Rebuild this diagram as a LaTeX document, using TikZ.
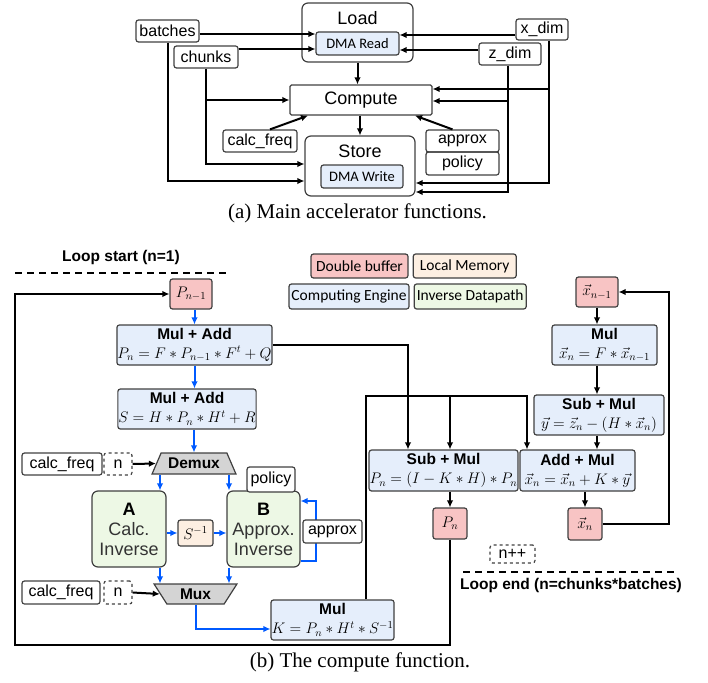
\RequirePackage{fix-cm}
\documentclass[tikz,border=0pt]{standalone}
\usepackage{fontspec}
\setmainfont{Liberation Sans}
\newfontfamily\calfont{Carlito}
\newfontfamily\capfont{Liberation Serif}
\usetikzlibrary{arrows.meta,positioning,shapes.geometric,calc}
\definecolor{bufred}{RGB}{248,196,196}
\definecolor{memorange}{RGB}{253,239,226}
\definecolor{engblue}{RGB}{229,238,251}
\definecolor{invgreen}{RGB}{237,248,229}
\definecolor{muxgray}{RGB}{212,212,212}
\definecolor{flowblue}{RGB}{0,90,255}
\definecolor{boxline}{RGB}{64,64,64}
\newcommand{\eqtext}[1]{{\fontsize{15.3}{19}\selectfont$#1$}}

\begin{document}
\begin{tikzpicture}[x=1pt, y=-1pt, font=\fontsize{16}{18}\selectfont, >={Latex[length=7pt,width=6.5pt]}]
\tikzstyle{box}=[draw=boxline, line width=1.2pt, rounded corners=2.5pt, align=center, inner sep=0.5pt]
\tikzstyle{parbox}=[box, minimum height=22pt]
\tikzstyle{dashbox}=[parbox, dashed]
\tikzstyle{funcbox}=[box, rounded corners=6pt]
\tikzstyle{bigtext}=[font=\fontsize{18}{20}\selectfont]
\tikzstyle{dmabox}=[box, fill=engblue, minimum height=23pt, font=\calfont\fontsize{14.5}{16}\selectfont]
\tikzstyle{engbox}=[box, fill=engblue, minimum height=40pt, font=\fontsize{15.5}{19}\selectfont]
\tikzstyle{bufbox}=[box, fill=bufred, minimum height=30pt]
\tikzstyle{invbox}=[box, fill=invgreen, rounded corners=6pt, minimum width=74pt, minimum height=76pt, font=\fontsize{18}{20}\selectfont]
\tikzstyle{muxbox}=[draw=boxline, line width=1.2pt, fill=muxgray, trapezium, trapezium stretches=true, inner sep=1pt, font=\bfseries\fontsize{15.5}{17}\selectfont]
\tikzstyle{legbox}=[box, minimum height=24pt, font=\calfont\fontsize{15.5}{17}\selectfont]
\tikzstyle{looptext}=[font=\bfseries\fontsize{15.5}{17}\selectfont]
\tikzstyle{arr}=[->, line width=2pt]
\tikzstyle{barr}=[->, line width=2pt, flowblue]
\useasboundingbox (0,0) rectangle (708,682);

% (a) main functions
\node[funcbox, minimum width=111pt, minimum height=59pt] (load) at (357.5,32.5) {};
\node[bigtext] (loadt) at (357.5,18) {Load};
\node[dmabox, minimum width=83pt] (dmar) at (357.5,43.5) {DMA Read};
\node[box, rounded corners=1.5pt, minimum width=142pt, minimum height=30pt, bigtext] (compute) at (361,100) {Compute};
\node[funcbox, minimum width=110pt, minimum height=60pt] (store) at (360,166) {};
\node[bigtext] (storet) at (360,151) {Store};
\node[dmabox, minimum width=82pt] (dmaw) at (362,176.5) {DMA Write};

\node[parbox, minimum width=63pt] (batches) at (167.5,31) {batches};
\node[parbox, minimum width=64pt] (chunks) at (206,57) {chunks};
\node[parbox, minimum width=74pt] (cfa) at (260,141) {calc\_freq};
\node[parbox, minimum width=52pt, minimum height=21pt] (xdim) at (542,29.5) {x\_dim};
\node[parbox, minimum width=62pt] (zdim) at (510,54) {z\_dim};
\node[parbox, minimum width=73pt] (apra) at (462.5,141) {approx};
\node[parbox, minimum width=73pt, minimum height=23pt, below=-1.2pt of apra] (pola) {policy};

\draw[arr] ([yshift=-3pt]batches.east) -- ([yshift=9.5pt]dmar.west);
\draw[arr] ([yshift=8pt]chunks.east) -- ([yshift=-5.5pt]dmar.west);
\draw[arr] ([yshift=-5.5pt]xdim.west) -- ([yshift=8.5pt]dmar.east);
\draw[arr] ([yshift=4pt]zdim.west) -- ([yshift=-6.5pt]dmar.east);
\draw[arr] (load.south |- load.south) -- (load.south |- compute.north);
\draw[arr] (compute.south -| storet) -- (storet |- store.north);
\draw[arr] (chunks.south) |- ([yshift=2pt]store.west);
\draw[arr] (chunks.south |- compute.west) -- (compute.west);
\draw[arr] (batches.south) |- ([yshift=-15pt]store.west);
\coordinate (xbus) at ([xshift=7pt]xdim.south);
\coordinate (zbus) at ([xshift=-2pt]zdim.south);
\coordinate (cin1) at ([yshift=11pt]compute.east);
\coordinate (cin2) at ([yshift=-1pt]compute.east);
\draw[arr] (xbus) |- ([yshift=-17pt]store.east);
\draw[arr] (xbus |- cin1) -- (cin1);
\draw[arr] (zbus) |- ([yshift=-26pt]store.east);
\draw[arr] (zbus |- cin2) -- (cin2);
\draw[arr] ([xshift=10pt]cfa.north) -- ([xshift=-53pt]compute.south);
\draw[arr] ([xshift=-10pt]apra.north) -- ([xshift=54pt]compute.south);

\node[font=\capfont\fontsize{21}{24}\selectfont] (capa) at (357.5,213) {(a) Main accelerator functions.};

% (b) compute function
\node[looptext] (loopst) at (121,257) {Loop start (n=1)};
\draw[dashed, line width=1.3pt, dash pattern=on 7pt off 5pt] (15,273) -- (230,273);

\node[legbox, fill=bufred, minimum width=97pt] (dbuf) at (359.5,266) {Double buffer};
\node[legbox, fill=memorange, minimum width=103pt, right=4pt of dbuf] (lmem) {Local Memory};
\node[legbox, fill=engblue, minimum width=120pt, minimum height=25pt] (ceng) at (349,296.5) {Computing Engine};
\node[legbox, fill=invgreen, minimum width=112pt, minimum height=25pt, right=4pt of ceng] (invd) {Inverse Datapath};

\node[bufbox, minimum width=42pt] (pprev) at (191,294) {\eqtext{P_{n-1}}};
\node[engbox, minimum width=155pt] (madd1) at (194.5,345) {\textbf{Mul + Add}\\\eqtext{P_n = F \ast P_{n-1} \ast F^t + Q}};
\node[engbox, minimum width=138pt] (madd2) at (187,409) {\textbf{Mul + Add}\\\eqtext{S = H \ast P_n \ast H^t + R}};
\node[muxbox, minimum width=84pt, minimum height=21pt] (demux) at (194,463.5) {Demux};
\node[parbox, minimum width=80pt] (cf1) at (62,464) {calc\_freq};
\node[dashbox, minimum width=28pt] (n1) at (118,464) {n};
\node[invbox] (calcA) at (129,529) {\textbf{A}\\\color{black!80}Calc.\\\color{black!80}Inverse};
\node[box, fill=memorange, minimum width=35pt, minimum height=26pt] (sinv) at (195.5,533) {\eqtext{S^{-1}}};
\node[invbox, minimum width=73pt] (apprB) at (263.5,529) {\textbf{B}\\\color{black!80}Approx.\\\color{black!80}Inverse};
\node[parbox, minimum width=48pt, minimum height=25pt, fill=white] (pol2) at (271,479.5) {policy};
\node[muxbox, shape border rotate=180, minimum width=83pt, minimum height=20pt] (mux) at (195.5,594) {Mux};
\node[parbox, minimum width=78pt, minimum height=23pt] (cf2) at (61,592.5) {calc\_freq};
\node[dashbox, minimum width=28pt, minimum height=23pt] (n2) at (118,592.5) {n};
\node[engbox, minimum width=123pt] (mulk) at (332.5,620) {\textbf{Mul}\\\eqtext{K = P_n \ast H^t \ast S^{-1}}};

\node[engbox, minimum width=147pt, minimum height=41pt] (subp) at (443.5,470.5) {\textbf{Sub + Mul}\\\eqtext{P_n = (I - K \ast H) \ast P_n}};
\node[engbox, minimum width=115pt, minimum height=41pt] (addx) at (577.5,470.5) {\textbf{Add + Mul}\\\eqtext{\vec{x}_n = \vec{x}_n + K \ast \vec{y}}};
\node[bufbox, minimum width=34pt, minimum height=31pt] (pn) at (450,523.5) {\eqtext{P_n}};
\node[bufbox, minimum width=34pt, minimum height=32pt] (xn) at (585,524) {\eqtext{\vec{x}_n}};
\node[bufbox, minimum width=42pt] (xprev) at (597,292) {\eqtext{\vec{x}_{n-1}}};
\node[engbox, minimum width=105pt] (mulx) at (604.5,345) {\textbf{Mul}\\\eqtext{\vec{x}_n = F \ast \vec{x}_{n-1}}};
\node[engbox, minimum width=130pt] (suby) at (599,415) {\textbf{Sub + Mul}\\\eqtext{\vec{y} = \vec{z}_n - (H \ast \vec{x}_n)}};
\node[dashbox, minimum width=45pt, minimum height=18pt] (npp) at (512.5,554) {n++};
\draw[dashed, line width=1.3pt, dash pattern=on 7pt off 5pt] (463,572) -- (677,572);
\node[looptext] (loopend) at (571,585) {Loop end (n=chunks*batches)};

% blue datapath
\draw[barr] (pprev.south -| madd1.north) -- (madd1.north);
\draw[barr] (madd1.south) -- (madd1.south |- madd2.north);
\draw[barr] (madd2.south -| demux.north) -- (demux.north);
\draw[barr] ([xshift=31pt]calcA.north |- demux.south) -- ([xshift=31pt]calcA.north);
\draw[barr] ([xshift=-34.5pt]apprB.north |- demux.south) -- ([xshift=-34.5pt]apprB.north);
\draw[barr] (calcA.east |- sinv) -- (sinv.west);
\draw[barr] (sinv.east) -- (sinv.east -| apprB.west);
\draw[barr] ([xshift=31pt]calcA.south) -- ([xshift=31pt]calcA.south |- mux.north);
\draw[barr] ([xshift=-34.5pt]apprB.south) -- ([xshift=-34.5pt]apprB.south |- mux.north);
\draw[barr] ([yshift=-32pt]apprB.east) -- ++(15,0) |- ([yshift=28pt]apprB.east);
\node[parbox, minimum width=59pt, minimum height=23pt, fill=white] (apr2) at (332.5,531.5) {approx};
\draw[barr] (mux.south) |- ([yshift=-9pt]mulk.west);

% control and loop connectors
\draw[arr] (n1.east) -- (demux.west);
\draw[arr] (n2.east) -- (mux.west);
\draw[arr] (madd1.east) -| ([xshift=-35.5pt]subp.north);
\coordinate (kbus) at (366,396);
\draw[arr] ([xshift=33.5pt]mulk.north) -- (kbus) -| ([xshift=-50.5pt]addx.north);
\draw[arr] ([xshift=6.5pt]subp.north |- kbus) -- ([xshift=6.5pt]subp.north);
\draw[arr] (subp.south -| pn.north) -- (pn.north);
\draw[arr] (addx.south -| xn.north) -- (xn.north);
\draw[arr] (xprev.south) -- (xprev.south |- mulx.north);
\draw[arr] (xprev.south |- mulx.south) -- (xprev.south |- suby.north);
\draw[arr] (xprev.south |- suby.south) -- (xprev.south |- addx.north);
\coordinate (xloop) at (669,292);
\draw[arr] (xn.east) -| (xloop) -- (xprev.east);
\coordinate (lpbot) at (15,645);
\draw[arr] (pn.south) |- (lpbot) |- (pprev.west);

\node[font=\capfont\fontsize{21}{24}\selectfont] (capb) at (360,662) {(b) The compute function.};
\end{tikzpicture}
\end{document}
